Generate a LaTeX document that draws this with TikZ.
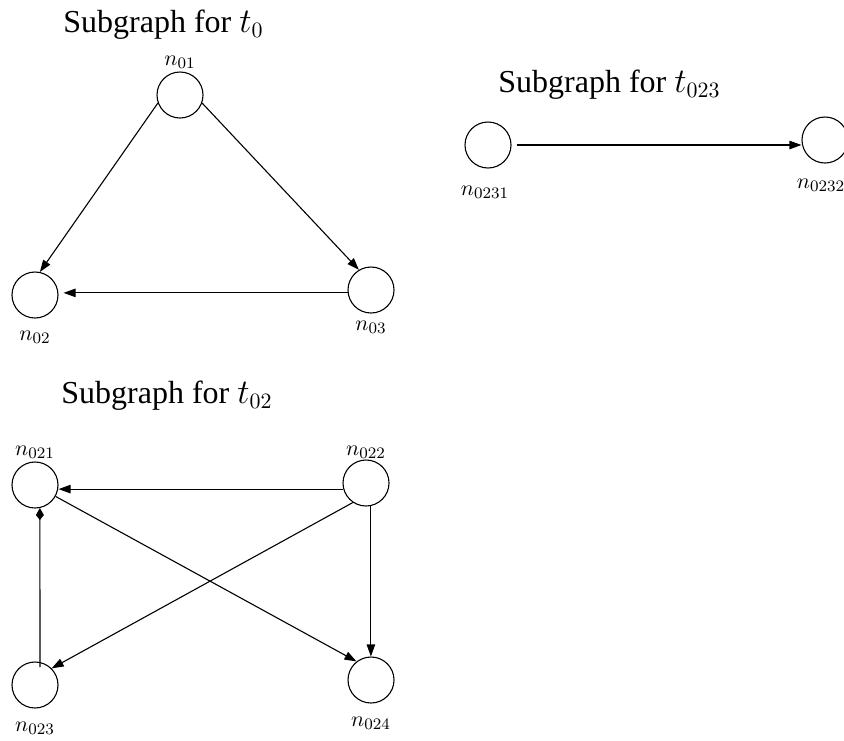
\documentclass[tikz,border=0pt]{standalone}
\usepackage{fontspec}
\newfontfamily\ttlfont{LiberationSerif}[Extension=.ttf,UprightFont=*-Regular]
\usetikzlibrary{arrows.meta}
\begin{document}
\begin{tikzpicture}[x=0.5pt,y=-0.5pt,
  vtx/.style={circle,draw,line width=0.55pt,minimum size=23pt,inner sep=0pt},
  lbl/.style={inner sep=0pt,font=\fontsize{11}{13}\selectfont},
  ttl/.style={inner sep=0pt,anchor=base west,font=\ttlfont\fontsize{16}{19}\selectfont},
  edge/.style={line width=0.55pt,-{Triangle[length=6pt,width=4.2pt]}},
  kedge/.style={line width=0.55pt,-{Kite[length=6pt,width=4pt,inset=2.5pt]}}]
\useasboundingbox (0,0) rectangle (844,740);
% Graph for t0
\node[ttl] (T1) at (63,32) {Subgraph for $t_0$};
\node[vtx] (n01) at (180,95) {};
\node[vtx] (n02) at (35,295) {};
\node[vtx] (n03) at (371,290) {};
\node[lbl] (l01) at (180,62) {$n_{01}$};
\node[lbl] (l02) at (35,337) {$n_{02}$};
\node[lbl] (l03) at (371,327) {$n_{03}$};
\draw[edge] (n01.200) -- (n02.78);
\draw[edge] (n01.340) -- (n03.121);
\draw[edge] (n03.187) -- ([xshift=2.5pt]n03.187 -| n02.east);
% Graph for t023
\node[ttl] (T2) at (498,92) {Subgraph for $t_{023}$};
\node[vtx] (n0231) at (488,145) {};
\node[vtx] (n0232) at (825,140) {};
\node[lbl] (l0231) at (485,192) {$n_{0231}$};
\node[lbl] (l0232) at (821,185) {$n_{0232}$};
\draw[edge] ([xshift=2.5pt]n0231.east) -- (n0231.east -| n0232.west);
% Graph for t02
\node[ttl] (T3) at (61,403) {Subgraph for $t_{02}$};
\node[vtx] (n021) at (35,485) {};
\node[vtx] (n022) at (366,483) {};
\node[vtx] (n023) at (35,685) {};
\node[vtx] (n024) at (371,680) {};
\node[lbl] (l021) at (35,452) {$n_{021}$};
\node[lbl] (l022) at (366,452) {$n_{022}$};
\node[lbl] (l023) at (35,728) {$n_{023}$};
\node[lbl] (l024) at (371,723) {$n_{024}$};
\draw[edge] (n022.195) -- (n022.195 -| n021.east);
\draw[kedge] ([shift={(5,-18)}]n023.center) -- (n021.282);
\draw[edge] (n021.331) -- (n024.128);
\draw[edge] (n022.236) -- (n023.45);
\draw[edge] (n022.282) -- (n022.282 |- n024.north);
\end{tikzpicture}
\end{document}
